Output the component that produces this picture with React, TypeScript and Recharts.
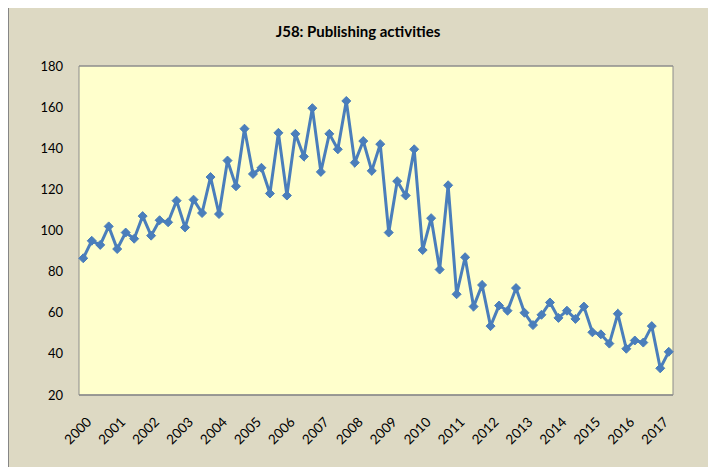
import React from "react";
import { CartesianGrid, Line, LineChart, XAxis, YAxis } from "recharts";

const years = [
  2000, 2001, 2002, 2003, 2004, 2005, 2006, 2007, 2008,
  2009, 2010, 2011, 2012, 2013, 2014, 2015, 2016, 2017,
];
const quarterNames = ["Q1", "Q2", "Q3", "Q4"];
const yTicks = [20, 40, 60, 80, 100, 120, 140, 160, 180];

// quarterly index values, 2000 Q1 .. 2017 Q2
const values = [
  86.5, 95, 93, 102, 91, 99, 96, 107,
  97.5, 105, 104, 114.5, 101.5, 115, 108.5, 126,
  108, 134, 121.5, 149.5, 127.5, 130.5, 118, 147.5,
  117, 147, 136, 159.5, 128.5, 147, 139.5, 163,
  133, 143.5, 129, 142, 99, 124, 117, 139.5,
  90.5, 106, 81, 122, 69, 87, 63, 73.5,
  53.5, 63.5, 61, 72, 60, 54, 59, 65,
  57.5, 61, 57, 63, 50.5, 49.5, 45, 59.5,
  42.5, 46.5, 45.5, 53.5, 33, 41,
];

const categories = years
  .flatMap((y) => quarterNames.map((q) => `${y} ${q}`))
  .slice(0, values.length);

const data = categories.map((c, i) => ({ period: c, value: values[i] }));

const FONT = "Lato, 'Open Sans', sans-serif";
const BLUE = "#4A7EBB";

function Diamond(props: any) {
  const { cx, cy, index } = props;
  if (cx == null || cy == null) return <g key={index} />;
  const r = 4.5;
  return (
    <polygon
      key={index}
      points={`${cx},${cy - r} ${cx + r},${cy} ${cx},${cy + r} ${cx - r},${cy}`}
      fill={BLUE}
      stroke={BLUE}
      strokeWidth={1}
    />
  );
}

function YearTick(props: any) {
  const { x, y, payload } = props;
  return (
    <g transform={`translate(${x + 9},${y + 28})`}>
      <text
        transform="rotate(-45)"
        textAnchor="end"
        fontFamily={FONT}
        fontSize={13.5}
        fill="#000"
      >
        {String(payload.value).slice(0, 4)}
      </text>
    </g>
  );
}

export default function App() {
  return (
    <div style={{ position: "relative", width: 716, height: 475, margin: -8 }}>
      <div
        style={{
          position: "absolute",
          left: 8,
          top: 3,
          width: 703,
          height: 467,
          border: "1px solid #868686",
          background: "#DDD9C3",
        }}
      />
      <div
        style={{
          position: "absolute",
          left: 0,
          top: 22,
          width: 716,
          textAlign: "center",
          fontFamily: FONT,
          fontWeight: 700,
          fontSize: 15,
          color: "#000",
        }}
      >
        J58: Publishing activities
      </div>
      <div style={{ position: "absolute", left: 0, top: 0 }}>
        <LineChart
          width={716}
          height={475}
          data={data}
          margin={{ top: 66, right: 0, bottom: 20, left: 0 }}
        >
          <CartesianGrid
            vertical={false}
            fill="#FFFFCC"
            stroke="#8C8C8C"
            strokeWidth={1.5}
          />
          <XAxis
            dataKey="period"
            interval={3}
            tickLine={false}
            tickSize={0}
            tickMargin={0}
            padding={{ left: 4.25, right: 4.25 }}
            axisLine={{ stroke: "#8C8C8C" }}
            height={60}
            tick={<YearTick />}
          />
          <YAxis
            yAxisId="left"
            domain={[20, 180]}
            ticks={yTicks}
            width={79}
            tickLine={false}
            tickSize={0}
            tickMargin={16}
            axisLine={{ stroke: "#8C8C8C" }}
            tick={{ fontFamily: FONT, fontSize: 13, fill: "#000" }}
          />
          <YAxis
            yAxisId="right"
            orientation="right"
            domain={[20, 180]}
            width={43}
            tick={false}
            tickLine={false}
            axisLine={{ stroke: "#8C8C8C" }}
          />
          <Line
            yAxisId="left"
            type="linear"
            dataKey="value"
            stroke={BLUE}
            strokeWidth={3}
            dot={Diamond}
            activeDot={false}
            isAnimationActive={false}
          />
        </LineChart>
      </div>
    </div>
  );
}
